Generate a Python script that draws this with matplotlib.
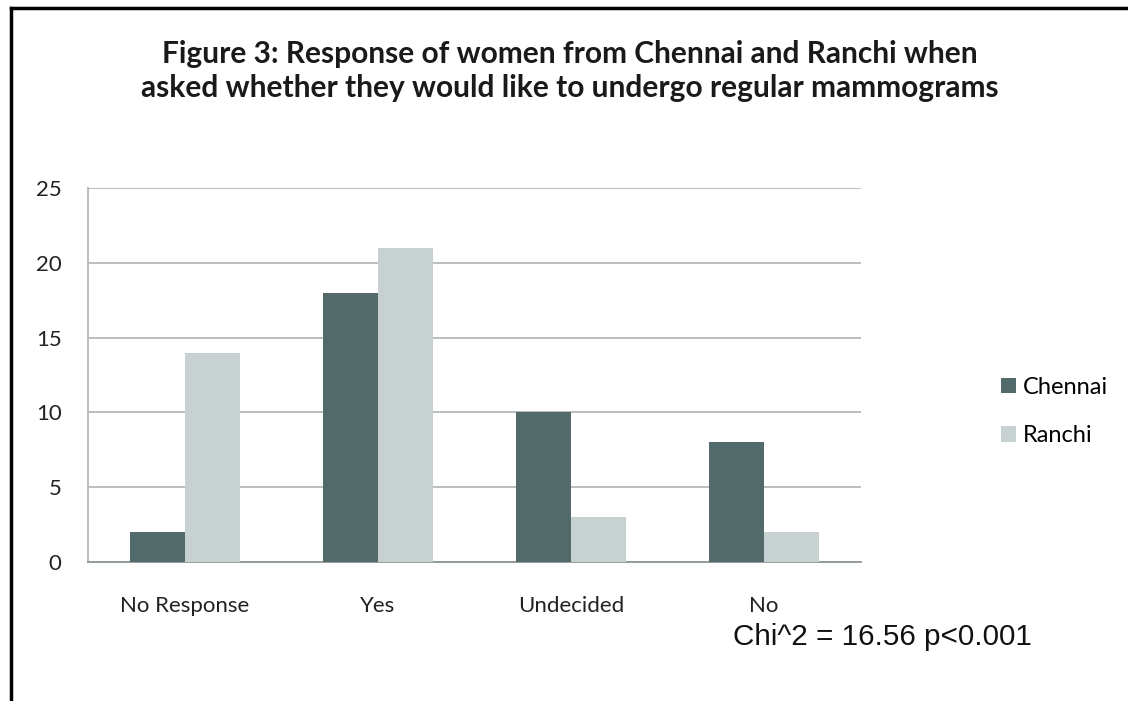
import matplotlib.pyplot as plt
import numpy as np

categories = ["No Response", "Yes", "Undecided", "No"]
chennai = [2, 18, 10, 8]
ranchi = [14, 21, 3, 2]

dark = "#536A6A"
light = "#C7D1D1"

fig = plt.figure(figsize=(11.28, 7.01), dpi=100)
fig.patch.set_facecolor("white")

# frame lines on left and top like the cropped original
fig.add_artist(plt.Line2D([0.0097, 0.0097], [0, 0.989], color="black", lw=2.5, transform=fig.transFigure))
fig.add_artist(plt.Line2D([0.0097, 1.0], [0.989, 0.989], color="black", lw=2.5, transform=fig.transFigure))

ax = fig.add_axes([0.078, 0.198, 0.685, 0.534])

x = np.arange(len(categories))
w = 0.285
ax.bar(x - w / 2, chennai, w, color=dark, label="Chennai", zorder=3)
ax.bar(x + w / 2, ranchi, w, color=light, label="Ranchi", zorder=3)

ax.set_xlim(-0.5, len(categories) - 0.5)
ax.set_ylim(0, 25)
ax.set_yticks(range(0, 26, 5))
ax.yaxis.grid(True, color="#B5B9B9", lw=1.3, zorder=0)
ax.set_axisbelow(True)

for s in ["top", "right"]:
    ax.spines[s].set_visible(False)
ax.spines["left"].set_color("#B5B9B9")
ax.spines["bottom"].set_color("#8E9696")
ax.spines["left"].set_linewidth(1.3)
ax.spines["bottom"].set_linewidth(1.3)

ax.set_xticks(x)
ax.set_xticklabels(categories, fontfamily="Lato", fontsize=16, color="#222222")
ax.tick_params(axis="x", length=0, pad=24)
ax.tick_params(axis="y", length=0, pad=19, labelsize=16, labelcolor="#222222")
for t in ax.get_yticklabels():
    t.set_fontfamily("Lato")

fig.text(0.505, 0.899,
         "Figure 3: Response of women from Chennai and Ranchi when\nasked whether they would like to undergo regular mammograms",
         ha="center", va="center", fontsize=21.5, fontweight="bold", fontfamily="Lato",
         color="#1a1a1a", linespacing=1.25)

leg = fig.legend(loc="center left", bbox_to_anchor=(0.887, 0.413), frameon=False,
                 prop={"family": "Lato", "size": 17}, handlelength=0.65, handleheight=0.65,
                 labelspacing=1.15, handletextpad=0.3, borderpad=0, borderaxespad=0)

fig.text(0.65, 0.091, "Chi^2 = 16.56 p<0.001", fontsize=21.3, fontfamily="Liberation Sans",
         color="#111111", va="center")

fig.savefig("out.png", dpi=100)
